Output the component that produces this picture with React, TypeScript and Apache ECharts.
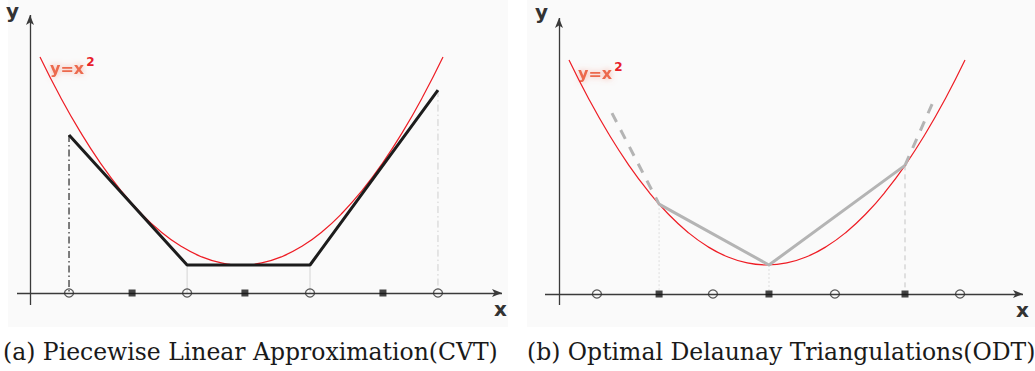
import React, { useEffect, useRef } from "react";
import * as echarts from "echarts";

// Parabola y = x^2 samples
const parabolaX = [-1, -0.9, -0.8, -0.7, -0.6, -0.5, -0.4, -0.3, -0.2, -0.1, 0, 0.1, 0.2, 0.3, 0.4, 0.5, 0.6, 0.7, 0.8, 0.9, 1];
const parabolaY = [1, 0.81, 0.64, 0.49, 0.36, 0.25, 0.16, 0.09, 0.04, 0.01, 0, 0.01, 0.04, 0.09, 0.16, 0.25, 0.36, 0.49, 0.64, 0.81, 1];

// (a) CVT panel
const cvtCirclesX = [-0.856, -0.27, 0.34, 0.975];
const cvtSquaresX = [-0.543, 0.017, 0.702];
const cvtLineY = [0.625, 0, 0, 0.841];

// (b) ODT panel
const odtCirclesX = [-0.859, -0.273, 0.343, 0.975];
const odtSquaresX = [-0.545, 0.01, 0.697];
const odtLineY = [0.297, 0, 0.486];
const odtLeftExtX = [-0.783, -0.545];
const odtLeftExtY = [0.741, 0.297];
const odtRightExtX = [0.697, 0.843];
const odtRightExtY = [0.486, 0.805];

const captions = ["(a) Piecewise Linear Approximation(CVT)", "(b) Optimal Delaunay Triangulations(ODT)"];

export default function App() {
  const ref = useRef<HTMLDivElement>(null);
  useEffect(() => {
    if (!ref.current) return;
    const chart = echarts.init(ref.current, null, { renderer: "svg" });

    // pixel mappings
    const L = { cx: 241.5, sx: 201.5, vy: 265, sy: 208, left: 8, width: 500, axisY: -0.1346 };
    const R = { cx: 767, sx: 198, vy: 265, sy: 205, left: 527, width: 508, axisY: -0.1415 };
    const gridH = 327;
    const rng = (P: any) => ({
      xmin: (P.left - P.cx) / P.sx,
      xmax: (P.left + P.width - P.cx) / P.sx,
      ymax: P.vy / P.sy,
      ymin: (P.vy - gridH) / P.sy,
    });
    const rl = rng(L);
    const rr = rng(R);

    const parabola = parabolaX.map((x, i) => [x, parabolaY[i]]);
    const zip = (xs: number[], ys: number[]) => xs.map((x, i) => [x, ys[i]]);

    const axisLine = (gi: number, xa: number[], ya: number[]) => ({
      type: "line",
      xAxisIndex: gi,
      yAxisIndex: gi,
      data: [],
      silent: true,
      markLine: {
        silent: true,
        symbol: ["none", "arrow"],
        symbolSize: [6, 10],
        label: { show: false },
        lineStyle: { color: "#3a3a3a", width: 1.3, type: "solid" },
        data: [
          [{ coord: [xa[0], xa[2]] }, { coord: [xa[1], xa[2]] }],
          [{ coord: [ya[2], ya[0]] }, { coord: [ya[2], ya[1]] }],
        ],
      },
    });

    const seg = (gi: number, pts: number[][], color: string, width: number, type: any, z = 2) => ({
      type: "line",
      xAxisIndex: gi,
      yAxisIndex: gi,
      data: pts,
      symbol: "none",
      silent: true,
      z,
      lineStyle: { color, width, type },
    });

    const marks = (gi: number, xs: number[], y: number, sq: boolean) => ({
      type: "scatter",
      xAxisIndex: gi,
      yAxisIndex: gi,
      silent: true,
      z: 5,
      data: xs.map((x) => [x, y]),
      symbol: sq ? "rect" : "circle",
      symbolSize: sq ? 7 : [9, 8],
      itemStyle: sq
        ? { color: "#151515" }
        : { color: "rgba(0,0,0,0)", borderColor: "#333", borderWidth: 1.3 },
    });

    const series: any[] = [];
    // Left panel
    series.push(axisLine(0, [(17 - L.cx) / L.sx, (502 - L.cx) / L.sx, L.axisY], [(305 - L.vy) / -L.sy, (15 - L.vy) / -L.sy, (30 - L.cx) / L.sx]));
    series.push(seg(0, [[cvtCirclesX[0], cvtLineY[0]], [cvtCirclesX[0], L.axisY]], "#2a2a2a", 1.2, [7, 3, 1.5, 3]));
    series.push(seg(0, [[cvtCirclesX[1], cvtLineY[1]], [cvtCirclesX[1], L.axisY]], "#d4d4d4", 1, "solid"));
    series.push(seg(0, [[cvtCirclesX[2], cvtLineY[2]], [cvtCirclesX[2], L.axisY]], "#d4d4d4", 1, "solid"));
    series.push(seg(0, [[cvtCirclesX[3], cvtLineY[3]], [cvtCirclesX[3], L.axisY]], "#cfcfcf", 1, [7, 3, 1.5, 3]));
    series.push({ ...seg(0, parabola, "#ee1c24", 1.2, "solid", 3), smooth: true });
    series.push(seg(0, zip(cvtCirclesX, cvtLineY), "#1c1c1c", 3, "solid", 4));
    series.push(marks(0, cvtCirclesX, L.axisY, false));
    series.push(marks(0, cvtSquaresX, L.axisY, true));

    // Right panel
    series.push(axisLine(1, [(545 - R.cx) / R.sx, (1023 - R.cx) / R.sx, R.axisY], [(305 - R.vy) / -R.sy, (18 - R.vy) / -R.sy, (559 - R.cx) / R.sx]));
    series.push(seg(1, [[odtSquaresX[0], odtLineY[0]], [odtSquaresX[0], R.axisY]], "#dedede", 1, [2, 2]));
    series.push(seg(1, [[odtSquaresX[1], odtLineY[1]], [odtSquaresX[1], R.axisY]], "#dedede", 1, [2, 2]));
    series.push(seg(1, [[odtSquaresX[2], odtLineY[2]], [odtSquaresX[2], R.axisY]], "#c4c4c4", 1, [5, 4]));
    series.push({ ...seg(1, parabola, "#ee1c24", 1.2, "solid", 3), smooth: true });
    series.push(seg(1, zip(odtSquaresX, odtLineY), "#b4b4b4", 3, "solid", 4));
    series.push(seg(1, zip(odtLeftExtX, odtLeftExtY), "#b4b4b4", 3, [10, 9], 4));
    series.push(seg(1, zip(odtRightExtX, odtRightExtY), "#b4b4b4", 3, [10, 9], 4));
    series.push(marks(1, odtCirclesX, R.axisY, false));
    series.push(marks(1, odtSquaresX, R.axisY, true));

    const eqLabel = (x: number, y: number) => ({
      type: "text",
      x,
      y,
      silent: true,
      style: {
        text: "{a|y=x}{b|2}",
        rich: {
          a: { fontFamily: "DejaVu Sans", fontWeight: "bold", fontSize: 16, fill: "#ec6a4e", textShadowColor: "rgba(240,120,100,0.6)", textShadowBlur: 6, verticalAlign: "bottom", lineHeight: 20 },
          b: { fontFamily: "DejaVu Sans", fontWeight: "bold", fontSize: 12, fill: "#e8202a", verticalAlign: "top", lineHeight: 20, padding: [0, 0, 8, 2] },
        },
      },
    });

    const axisLabel = (t: string, x: number, y: number) => ({
      type: "text",
      x,
      y,
      silent: true,
      style: { text: t, fontFamily: "DejaVu Sans", fontWeight: "bold", fontSize: 20, fill: "#333" },
    });

    const caption = (t: string, x: number) => ({
      type: "text",
      x,
      y: 352,
      silent: true,
      style: { text: t, fontFamily: "DejaVu Serif", fontSize: 23.5, fill: "#1a1a1a", verticalAlign: "middle" },
    });

    chart.setOption({
      animation: false,
      grid: [
        { left: L.left, top: 0, width: L.width, height: gridH, show: true, backgroundColor: "#fafafa", borderWidth: 0 },
        { left: R.left, top: 0, width: R.width, height: gridH, show: true, backgroundColor: "#fafafa", borderWidth: 0 },
      ],
      xAxis: [
        { type: "value", gridIndex: 0, min: rl.xmin, max: rl.xmax, show: false },
        { type: "value", gridIndex: 1, min: rr.xmin, max: rr.xmax, show: false },
      ],
      yAxis: [
        { type: "value", gridIndex: 0, min: rl.ymin, max: rl.ymax, show: false },
        { type: "value", gridIndex: 1, min: rr.ymin, max: rr.ymax, show: false },
      ],
      series,
      graphic: [
        axisLabel("y", 6, 1),
        axisLabel("x", 494, 299),
        axisLabel("y", 535, 2),
        axisLabel("x", 1016, 300),
        eqLabel(50, 56),
        eqLabel(578, 61),
        caption(captions[0], 3),
        caption(captions[1], 527),
      ],
    });
    return () => chart.dispose();
  }, []);
  return <div ref={ref} style={{ position: "fixed", left: 0, top: 0, width: 1035, height: 371, background: "#fff" }} />;
}
